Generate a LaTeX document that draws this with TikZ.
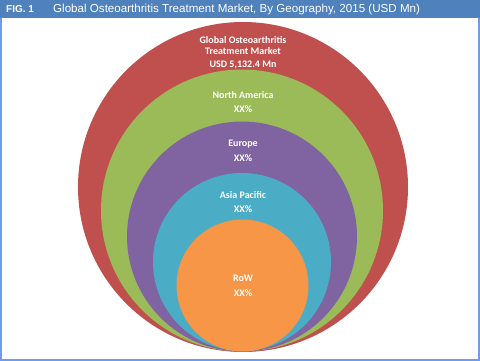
\documentclass[tikz,border=0pt]{standalone}
\usepackage{fontspec}
\setmainfont{Liberation Sans}
\newfontfamily\calfont{Carlito}
\definecolor{hdr}{HTML}{4F81BD}
\definecolor{frm}{HTML}{6F9BF0}
\definecolor{cred}{HTML}{C0504D}
\definecolor{cgreen}{HTML}{9BBB59}
\definecolor{cpurple}{HTML}{8064A2}
\definecolor{cteal}{HTML}{4BACC6}
\definecolor{corange}{HTML}{F79646}
\begin{document}
\begin{tikzpicture}[x=1pt,y=-1pt,
  lbl/.style={text=white,font=\calfont\bfseries\fontsize{10}{11.5}\selectfont,align=center,inner sep=0pt},
  ring/.style={circle,draw=none,inner sep=0pt}]
\useasboundingbox (0,0) rectangle (480,361);
\fill[white] (0,0) rectangle (480,361);
\node[ring,fill=cred,minimum size=330pt] (c1) at (243,187) {};
\node[ring,fill=cgreen,minimum size=282pt] (c2) at (242,210.5) {};
\node[ring,fill=cpurple,minimum size=230pt] (c3) at (242,236.5) {};
\node[ring,fill=cteal,minimum size=178pt] (c4) at (242,262) {};
\node[ring,fill=corange,minimum size=132pt] (c5) at (242.5,285.5) {};
\node[lbl] (t1) at (243,45.5) {Global Osteoarthritis\\Treatment Market};
\node[lbl] (v1) at (243,65) {USD 5,132.4 Mn};
\node[lbl] (t2) at (243,95) {North America};
\node[lbl] (v2) at (243,109) {XX\%};
\node[lbl] (t3) at (243,144) {Europe};
\node[lbl] (v3) at (243,158) {XX\%};
\node[lbl] (t4) at (243,195) {Asia Pacific};
\node[lbl] (v4) at (243,209) {XX\%};
\node[lbl] (t5) at (243,278) {RoW};
\node[lbl] (v5) at (243,293) {XX\%};
\draw[frm,line width=2pt] (1,1) rectangle (479,360);
\fill[hdr] (0,0) rectangle (480,18);
\node[anchor=west,text=white,font=\bfseries\fontsize{10}{12}\selectfont,inner sep=0pt] (fig) at (6,9.5) {FIG. 1};
\node[anchor=west,text=white,font=\fontsize{11.6}{13}\selectfont,inner sep=0pt] (title) at (53,9.5) {Global Osteoarthritis Treatment Market, By Geography, 2015 (USD Mn)};
\end{tikzpicture}
\end{document}
